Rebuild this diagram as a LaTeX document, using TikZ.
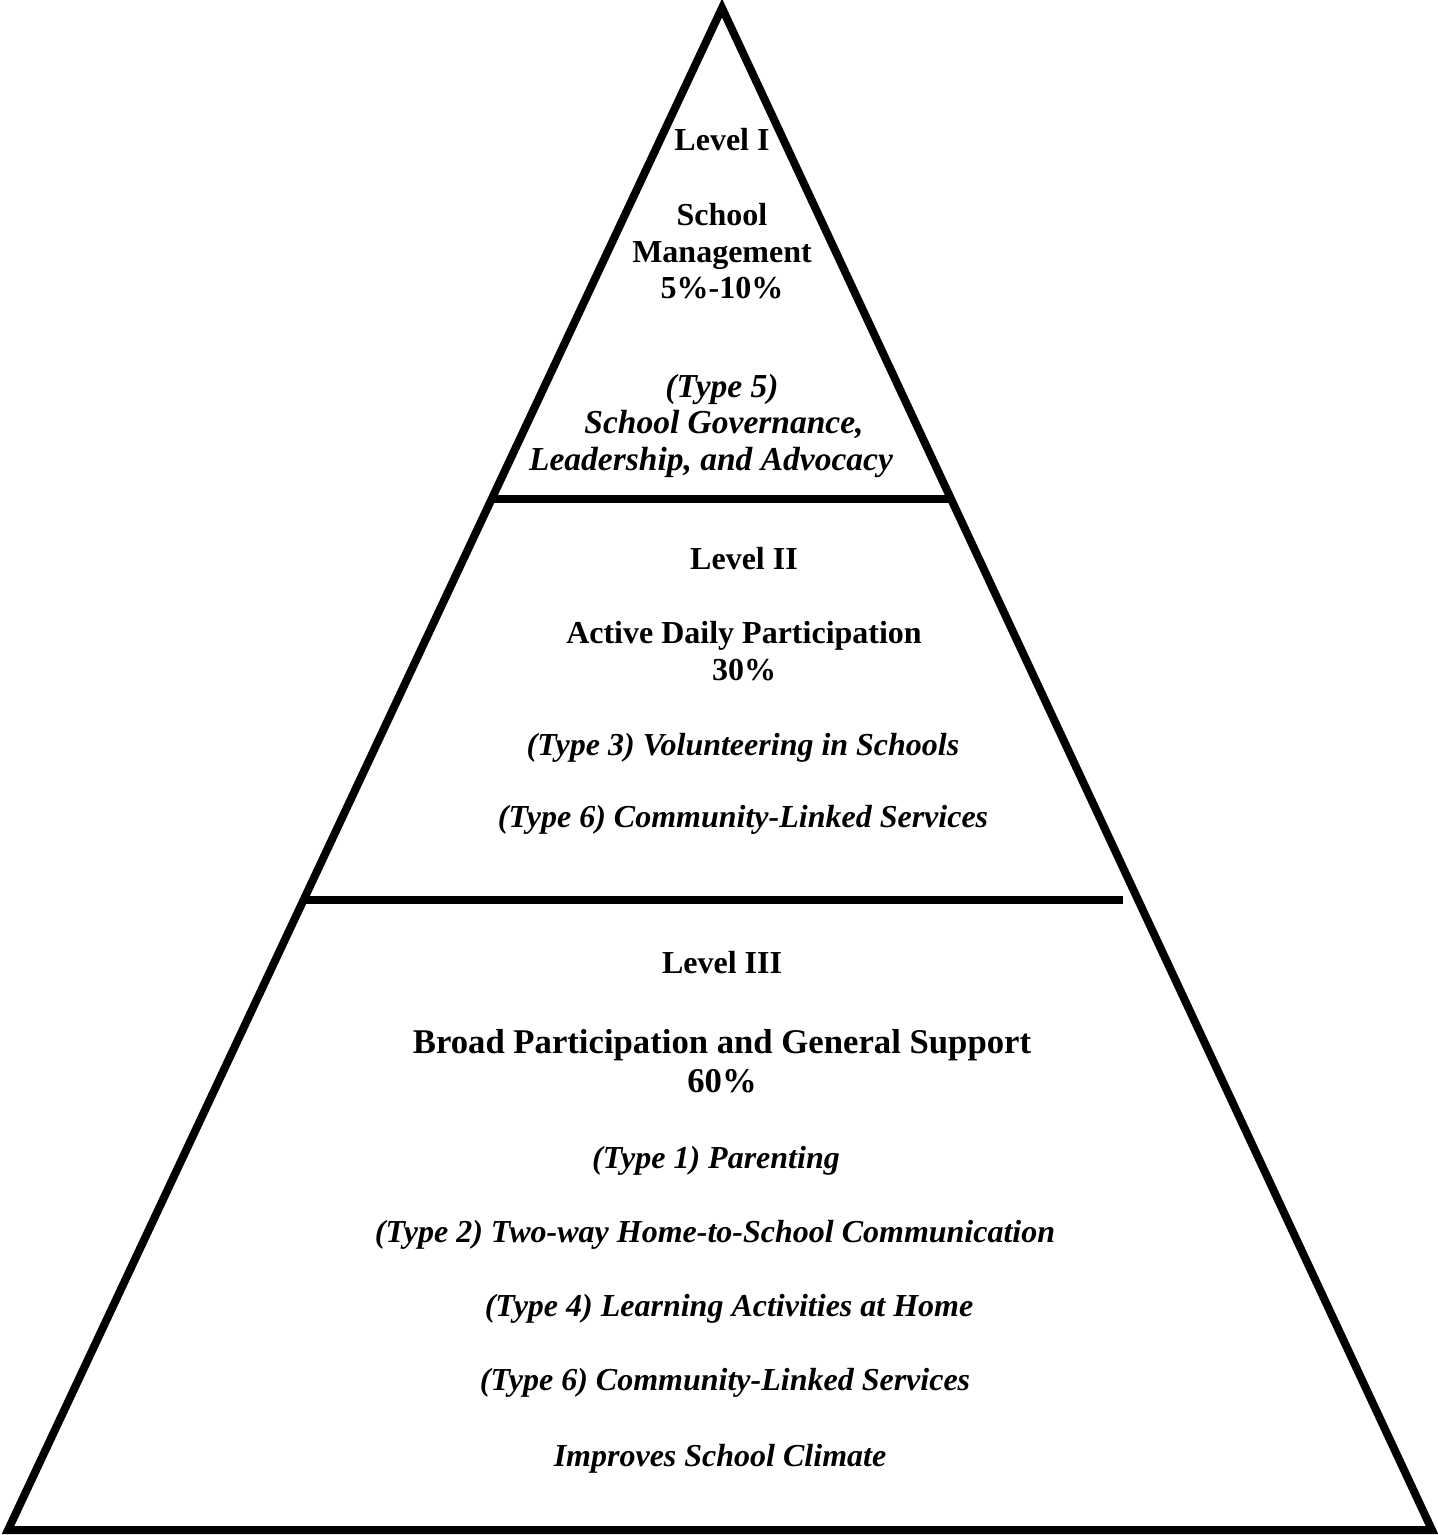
\documentclass[tikz,border=0pt]{standalone}
\usepackage{fontspec}
\setmainfont{Liberation Serif}
\begin{document}
\begin{tikzpicture}[x=1bp,y=-1bp,
  edge/.style={line width=8bp,line join=miter,black},
  divider/.style={line width=8bp,black},
  head/.style={anchor=base,inner sep=0pt,font=\fontsize{32bp}{37bp}\selectfont\bfseries},
  bighead/.style={anchor=base,inner sep=0pt,font=\fontsize{34.7bp}{40bp}\selectfont\bfseries},
  item/.style={anchor=base,inner sep=0pt,font=\fontsize{32bp}{37bp}\selectfont\bfseries\itshape},
  topitem/.style={anchor=base,inner sep=0pt,font=\fontsize{33.5bp}{38bp}\selectfont\bfseries\itshape}]
\useasboundingbox (0,0) rectangle (1438,1535);
% pyramid outline
\coordinate (apex) at (722,8);
\coordinate (bl) at (8,1530);
\coordinate (br) at (1432,1530);
\draw[edge] (apex) -- (bl) -- (br) -- cycle;
% level dividers
\coordinate (d1l) at (492,499);
\coordinate (d1r) at (950,499);
\coordinate (d2l) at (304,900);
\coordinate (d2r) at (1123,900);
\draw[divider] (d1l) -- (d1r);
\draw[divider] (d2l) -- (d2r);
% Level I
\node[head] (l1) at (722,151) {Level I};
\node[head] (l1a) at (722,225) {School};
\node[head] (l1b) at (722,262) {Management};
\node[head] (l1c) at (722,298) {5\%-10\%};
\node[topitem] (t5a) at (722,397) {(Type 5)};
\node[topitem] (t5b) at (724,433) {School Governance,};
\node[topitem] (t5c) at (711,470) {Leadership, and Advocacy};
% Level II
\node[head] (l2) at (744,569) {Level II};
\node[head] (l2a) at (744,643) {Active Daily Participation};
\node[head] (l2b) at (744,680) {30\%};
\node[item] (t3) at (743,755) {(Type 3) Volunteering in Schools};
\node[item] (t6a) at (743,827) {(Type 6) Community-Linked Services};
% Level III
\node[head] (l3) at (722,973) {Level III};
\node[bighead] (l3a) at (722,1053) {Broad Participation and General Support};
\node[bighead] (l3b) at (722,1092) {60\%};
\node[item] (t1) at (716,1168) {(Type 1) Parenting};
\node[item] (t2) at (715,1242) {(Type 2) Two-way Home-to-School Communication};
\node[item] (t4) at (729,1316) {(Type 4) Learning Activities at Home};
\node[item] (t6b) at (725,1390) {(Type 6) Community-Linked Services};
\node[item] (imp) at (720,1466) {Improves School Climate};
\end{tikzpicture}
\end{document}
